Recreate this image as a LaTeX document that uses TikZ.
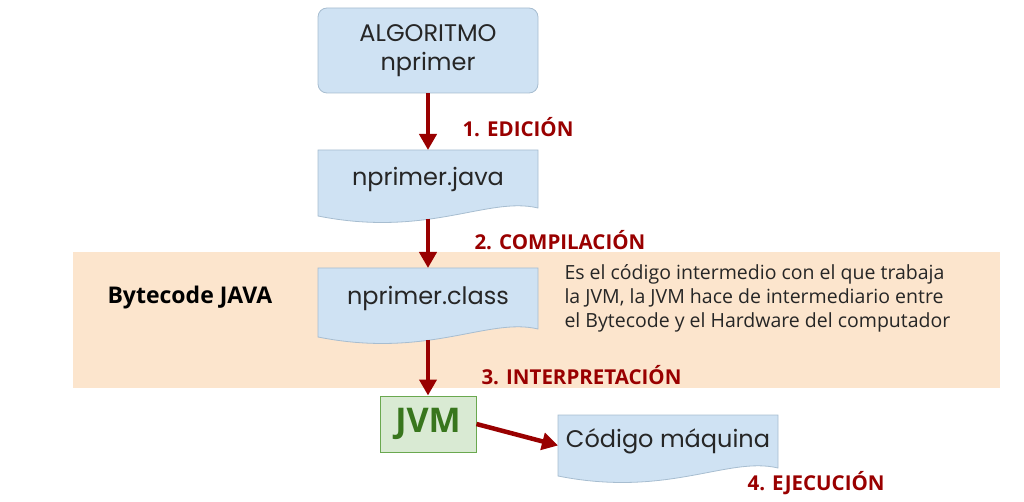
\documentclass[tikz,border=0pt]{standalone}
\usepackage{fontspec}
\setmainfont{Open Sans}
\newfontfamily\boxfont{Poppins}
\usetikzlibrary{arrows.meta}
\definecolor{boxblue}{HTML}{CFE2F3}
\definecolor{boxedge}{HTML}{A7BDD0}
\definecolor{dred}{HTML}{990000}
\definecolor{band}{HTML}{FCE5CD}
\definecolor{jvmfill}{HTML}{D9EAD3}
\definecolor{jvmedge}{HTML}{6AA84F}
\definecolor{jvmtext}{HTML}{38761D}
\newcommand{\docshape}[5]{% x1,y1,x2,y2,name
  \fill[boxblue,draw=boxedge,line width=0.8pt] (#1,#2) -- (#3,#2) -- (#3,#4-8)
    .. controls (#3-50,#4-20) and (#1+110,#4+22) .. (#1,#4) -- cycle;
  \coordinate (#5) at ({(#1+#3)/2},{(#2+#4)/2-4});
  \coordinate (#5-t) at ({(#1+#3)/2},#2);
  \coordinate (#5-b) at ({(#1+#3)/2},#4+3);
  \coordinate (#5-l) at (#1,{(#2+#4)/2});
}
\begin{document}
\begin{tikzpicture}[x=1pt,y=-1pt,
  arr/.style={dred,line width=4.5pt,-{Triangle[length=16pt,width=17pt]}},
  lab/.style={dred,font=\bfseries\fontsize{20.5}{24}\selectfont,anchor=west},
  btxt/.style={font=\boxfont\fontsize{24}{29}\selectfont,text=black!85}]
\useasboundingbox (0,0) rectangle (1024,502);
\fill[band] (73,252) rectangle (1000,388);
\node[draw=boxedge,fill=boxblue,rounded corners=9pt,line width=0.8pt,minimum width=220pt,minimum height=85pt,btxt,align=center] (alg) at (428,50.5) {ALGORITMO\\nprimer};
\docshape{318}{150}{538}{216}{java}
\node[btxt] (javat) at (java) {nprimer.java};
\docshape{318}{268}{538}{337}{cls}
\node[btxt] (clst) at (cls) {nprimer.class};
\docshape{558}{415}{778}{476}{maq}
\node[btxt] (maqt) at (maq) {Código máquina};
\node[draw=jvmedge,fill=jvmfill,line width=1pt,minimum width=96pt,minimum height=56pt,text=jvmtext,font=\bfseries\fontsize{34}{38}\selectfont] (jvm) at (428,424) {JVM};
\draw[arr] (alg.south) -- (java-t);
\draw[arr] (java-b) -- (cls-t);
\draw[arr] (cls-b) -- (jvm.north);
\draw[arr] (jvm.east) -- (maq-l);
\node[lab] (l1) at (459,127) {1. EDICIÓN};
\node[lab] (l2) at (471,240) {2. COMPILACIÓN};
\node[lab] (l3) at (478,375) {3. INTERPRETACIÓN};
\node[lab] (l4) at (744,483) {4. EJECUCIÓN};
\node[font=\bfseries\fontsize{23}{26}\selectfont,anchor=west] (bj) at (104,298) {Bytecode JAVA};
\node[font=\fontsize{19.5}{24}\selectfont,anchor=west,align=left,text=black!85] (desc) at (561,298) {Es el código intermedio con el que trabaja\\la JVM, la JVM hace de intermediario entre\\el Bytecode y el Hardware del computador};
\end{tikzpicture}
\end{document}
